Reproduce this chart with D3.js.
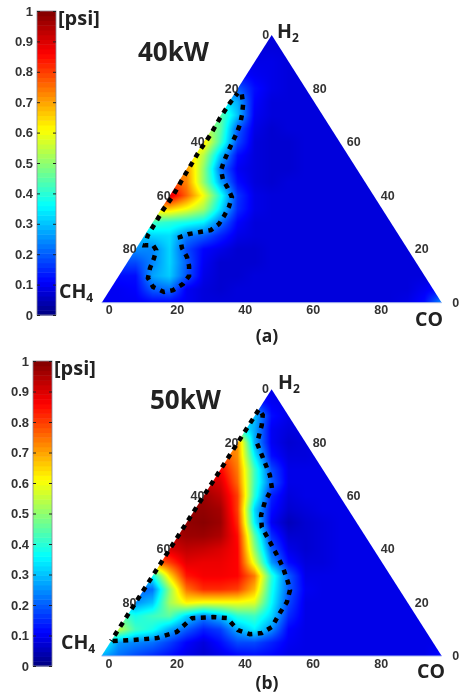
<!DOCTYPE html>
<html>
<head>
<meta charset="utf-8">
<script src="https://cdn.jsdelivr.net/npm/d3@7"></script>
<style>
  html, body { margin: 0; padding: 0; background: #fff; }
  #wrap { position: relative; width: 464px; height: 697px; overflow: hidden; filter: blur(0.45px); }
  canvas, svg { position: absolute; left: 0; top: 0; }
  text { font-family: "Open Sans", sans-serif; }
  .tick-label { font-family: "Liberation Sans", sans-serif; font-weight: bold; font-size: 12.5px; fill: #333; }
  .bar-label { font-size: 13px; }
</style>
</head>
<body>
<div id="wrap">
  <canvas id="heat" width="464" height="697"></canvas>
  <svg id="chart" width="464" height="697"></svg>
</div>
<script>
// colour bar and ternary tick labels
let barTicks = [0, 0.1, 0.2, 0.3, 0.4, 0.5, 0.6, 0.7, 0.8, 0.9, 1];
let ternaryTicks = [0, 20, 40, 60, 80];

// jet colours
let jetStops = [0, 0.11, 0.36, 0.61, 0.86, 1];
let jetColors = ["#000080", "#0000ff", "#00ffff", "#ffff00", "#ff0000", "#800000"];

// pressure in hundredths of a psi.
// one row per 5% of height (bottom row first), one column per 5% along the base
let pressure40 = [
  [10,10,10,11,11,10, 8, 8, 8, 8, 8, 8, 8, 8, 8, 8, 8, 8, 9,12,25],
  [10,10,11,20,22,10, 8, 7, 8, 8, 8, 8, 8, 8, 8, 8, 8, 8, 8,10,12],
  [12,12,12,27,31,19, 9, 7, 7, 8, 8, 8, 8, 8, 8, 8, 8, 8, 8, 8, 8],
  [18,18,18,24,32,20,10, 7, 7, 7, 8, 8, 8, 8, 8, 8, 8, 8, 8, 8, 8],
  [25,25,25,24,32,18,11, 9, 7, 7, 8, 8, 8, 8, 8, 8, 8, 8, 8, 8, 8],
  [30,30,30,32,33,23,20,14, 9, 8, 8, 8, 8, 8, 8, 8, 8, 8, 8, 8, 8],
  [42,42,42,42,40,38,35,22,11, 8, 8, 8, 8, 8, 8, 8, 8, 8, 8, 8, 8],
  [66,66,66,66,66,60,52,33,15, 9, 8, 8, 8, 8, 8, 8, 8, 8, 8, 8, 8],
  [90,90,90,90,90,76,60,38,16, 9, 8, 8, 8, 8, 8, 8, 8, 8, 8, 8, 8],
  [80,80,80,80,80,73,50,27,12, 8, 7, 8, 8, 8, 8, 8, 8, 8, 8, 8, 8],
  [72,72,72,72,72,72,50,22,10, 8, 7, 7, 8, 8, 8, 8, 8, 8, 8, 8, 8],
  [68,68,68,68,68,68,54,30,12, 8, 7, 7, 8, 8, 8, 8, 8, 8, 8, 8, 8],
  [64,64,64,64,64,64,64,42,18, 8, 7, 7, 8, 8, 8, 8, 8, 8, 8, 8, 8],
  [56,56,56,56,56,56,56,45,20, 9, 7, 8, 8, 8, 8, 8, 8, 8, 8, 8, 8],
  [45,45,45,45,45,45,45,45,30,10, 8, 8, 8, 8, 8, 8, 8, 8, 8, 8, 8],
  [35,35,35,35,35,35,35,35,28,11, 8, 8, 8, 8, 8, 8, 8, 8, 8, 8, 8],
  [20,20,20,20,20,20,20,20,20,12, 9, 8, 8, 8, 8, 8, 8, 8, 8, 8, 8],
  [12,12,12,12,12,12,12,12,12,10, 9, 8, 8, 8, 8, 8, 8, 8, 8, 8, 8],
  [ 9, 9, 9, 9, 9, 9, 9, 9, 9, 9, 9, 8, 8, 8, 8, 8, 8, 8, 8, 8, 8],
  [ 8, 8, 8, 8, 8, 8, 8, 8, 8, 8, 8, 8, 8, 8, 8, 8, 8, 8, 8, 8, 8],
  [ 8, 8, 8, 8, 8, 8, 8, 8, 8, 8, 8, 8, 8, 8, 8, 8, 8, 8, 8, 8, 8]
];

let pressure50 = [
  [28,22,18,15,12, 9, 7, 9,11,12,11, 9, 9, 9, 9, 9, 9, 9, 9, 9,12],
  [40,26,24,22,17,11, 8,12,18,18,14,10, 9, 9, 9, 9, 9, 9, 9, 9, 9],
  [55,55,42,38,28,20,14,17,28,35,25,11, 9, 9, 9, 9, 9, 9, 9, 9, 9],
  [45,45,38,42,45,32,24,30,40,42,32,15, 9, 9, 9, 9, 9, 9, 9, 9, 9],
  [25,25,25,30,52,62,60,60,60,58,36,18, 9, 9, 9, 9, 9, 9, 9, 9, 9],
  [20,20,20,22,50,75,82,82,80,68,38,20,10, 9, 9, 9, 9, 9, 9, 9, 9],
  [36,36,36,36,64,84,87,87,86,74,40,20, 9, 9, 9, 9, 9, 9, 9, 9, 9],
  [74,74,74,74,80,89,88,88,86,58,26,12, 8, 8, 9, 9, 9, 9, 9, 9, 9],
  [90,90,90,90,90,93,92,90,86,50,20, 9, 7, 8, 9, 9, 9, 9, 9, 9, 9],
  [94,94,94,94,94,97,97,95,85,45,15, 7, 7, 8, 9, 9, 9, 9, 9, 9, 9],
  [98,98,98,98,98,98,99,97,82,35,10, 5, 7, 8, 9, 9, 9, 9, 9, 9, 9],
  [98,98,98,98,98,98,98,96,80,32,12, 7, 8, 9, 9, 9, 9, 9, 9, 9, 9],
  [97,97,97,97,97,97,97,93,80,40,14, 8, 9, 9, 9, 9, 9, 9, 9, 9, 9],
  [93,93,93,93,93,93,93,90,76,42,20, 9, 9, 9, 9, 9, 9, 9, 9, 9, 9],
  [86,86,86,86,86,86,86,86,74,42,18, 9, 9, 9, 9, 9, 9, 9, 9, 9, 9],
  [80,80,80,80,80,80,80,80,72,35,12, 8, 8, 9, 9, 9, 9, 9, 9, 9, 9],
  [72,72,72,72,72,72,72,72,72,28,10, 7, 8, 9, 9, 9, 9, 9, 9, 9, 9],
  [40,40,40,40,40,40,40,40,40,28,10, 8, 9, 9, 9, 9, 9, 9, 9, 9, 9],
  [30,30,30,30,30,30,30,30,30,30,12, 9, 9, 9, 9, 9, 9, 9, 9, 9, 9],
  [15,15,15,15,15,15,15,15,15,15,10, 9, 9, 9, 9, 9, 9, 9, 9, 9, 9],
  [ 9, 9, 9, 9, 9, 9, 9, 9, 9, 9, 9, 9, 9, 9, 9, 9, 9, 9, 9, 9, 9]
];

// dashed outlines: position along the base (%), height (%)
let outline40X = [41.2,41.6,41.3,40.7,39.7,38.3,37.1,36,35.1,35.7,37.1,38.3,37.4,36,34.5,32.1,28.9,25.4,23,23.6,25.1,25.7,25.7,23.9,21,18.3,15.1,13.6,14.2,15.4,16,15.1,12.7,13.6,16.3,18,20.7,23.9,28.3,31.9,34.8,37.7,40];
let outline40Y = [77.8,74.2,70.4,66.7,63.3,59.6,56.2,52.9,49.5,45.8,42.8,39.4,35.7,32.4,29.4,27.1,26.4,25.6,24.5,20.4,17,13.7,10,7,4.7,4,5.9,9.2,12.9,16.7,19.7,21.5,21.5,25.3,30.9,34.6,39.4,46.5,55.8,62.6,69,74.6,78.3];
let outline50X = [3.3,9.2,16.3,22.1,26.6,32.7,36.9,40.1,43.6,47.1,50.1,52.4,54.5,55.4,54.8,53.3,51.6,48.9,47.1,46.9,48,50.1,49.5,47.4,45.7,47.1,47.4,46.3,2.8];
let outline50Y = [5.6,6,6.7,9,14.2,14.6,14.2,9.7,8.2,8.6,10.9,16.1,20.2,24.7,27.7,33.3,37.8,44.2,48.3,52.8,57.7,62.9,67.8,74.5,79.8,86.5,90.3,92.5,5.6];

let svg = d3.select("#chart");
let ctx = document.getElementById("heat").getContext("2d");
let jet = d3.scaleLinear().domain(jetStops).range(jetColors).clamp(true);

function drawField(values, x, y, corners) {
  let left = corners[0][0], right = corners[1][0], top = corners[2][1], bottom = corners[0][1];
  let x0 = Math.floor(left), y0 = Math.floor(top);
  let w = Math.ceil(right) - x0 + 1, h = Math.ceil(bottom) - y0 + 1;
  let off = document.createElement("canvas");
  off.width = w; off.height = h;
  let octx = off.getContext("2d");
  let img = octx.createImageData(w, h);
  for (let j = 0; j < h; j++) {
    for (let i = 0; i < w; i++) {
      let gx = Math.min(19.999, Math.max(0, x.invert(x0 + i + 0.5) / 5));
      let gy = Math.min(19.999, Math.max(0, y.invert(y0 + j + 0.5) / 5));
      let ci = Math.floor(gx), ri = Math.floor(gy);
      let fx = gx - ci, fy = gy - ri;
      let v = (values[ri][ci] * (1 - fx) + values[ri][ci + 1] * fx) * (1 - fy)
            + (values[ri + 1][ci] * (1 - fx) + values[ri + 1][ci + 1] * fx) * fy;
      let c = d3.rgb(jet(v / 100));
      let k = (j * w + i) * 4;
      img.data[k] = c.r; img.data[k + 1] = c.g; img.data[k + 2] = c.b; img.data[k + 3] = 255;
    }
  }
  octx.putImageData(img, 0, 0);
  ctx.save();
  ctx.beginPath();
  ctx.moveTo(corners[0][0], corners[0][1]);
  ctx.lineTo(corners[1][0], corners[1][1]);
  ctx.lineTo(corners[2][0], corners[2][1]);
  ctx.closePath();
  ctx.clip();
  ctx.drawImage(off, x0, y0);
  ctx.restore();
}

function drawBar(g, p) {
  let scale = d3.scaleLinear().domain([0, 1]).range([p.barBottom, p.barTop]);
  let levels = d3.range(64);
  let step = (p.barBottom - p.barTop) / 64;
  g.selectAll("rect.level").data(levels).enter().append("rect")
    .attr("class", "level")
    .attr("x", p.barLeft)
    .attr("width", 19)
    .attr("y", d => scale((d + 1) / 64))
    .attr("height", step + 0.5)
    .attr("fill", d => jet((d + 0.5) / 64));
  g.append("rect")
    .attr("x", p.barLeft).attr("y", p.barTop).attr("width", 19).attr("height", p.barBottom - p.barTop)
    .attr("fill", "none").attr("stroke", "#8a8a98").attr("stroke-width", 0.8);

  let axis = g.append("g")
    .attr("transform", "translate(" + p.barLeft + ",0)")
    .call(d3.axisLeft(scale).tickValues(barTicks).tickSize(-3).tickPadding(4).tickFormat(d3.format("~g")));
  axis.select(".domain").remove();
  axis.selectAll("line").attr("stroke", "#222");
  axis.selectAll("text").attr("class", "tick-label bar-label").attr("font-family", null).attr("font-size", null);
  let axisR = g.append("g")
    .attr("transform", "translate(" + (p.barLeft + 19) + ",0)")
    .call(d3.axisRight(scale).tickValues(barTicks).tickSize(-3).tickFormat(""));
  axisR.select(".domain").remove();
  axisR.selectAll("line").attr("stroke", "#222");
}

function label(g, txt, x, y, size, weight, anchor) {
  return g.append("text").attr("x", x).attr("y", y)
    .attr("font-size", size).attr("font-weight", weight)
    .attr("fill", "#222").attr("text-anchor", anchor || "start").text(txt);
}

function drawPanel(p) {
  let g = svg.append("g");
  let x = d3.scaleLinear().domain([0, 100]).range([p.left, p.right]);
  let y = d3.scaleLinear().domain([0, 100]).range([p.base, p.apex]);
  let corners = [[x(0), y(0)], [x(100), y(0)], [x(50), y(100)]];

  drawField(p.values, x, y, corners);
  drawBar(g, p);

  // pale line along the base
  g.append("line")
    .attr("x1", x(0)).attr("x2", x(100)).attr("y1", y(0)).attr("y2", y(0))
    .attr("stroke", "#a9b8ee").attr("stroke-width", 1);

  // ternary tick labels: base, left edge (read downward), right edge (read upward)
  g.selectAll("text.base").data(ternaryTicks).enter().append("text")
    .attr("class", "tick-label").attr("text-anchor", "middle")
    .attr("x", d => x(d) + 7.5).attr("y", y(0) + 11.5).text(d => d);
  g.selectAll("text.lefte").data(ternaryTicks).enter().append("text")
    .attr("class", "tick-label").attr("text-anchor", "middle")
    .attr("x", d => x(50 - d / 2) - 6).attr("y", d => y(100 - d) + 4).text(d => d);
  g.selectAll("text.righte").data(ternaryTicks).enter().append("text")
    .attr("class", "tick-label").attr("text-anchor", "middle")
    .attr("x", d => x(100 - d / 2) + 14).attr("y", d => y(d) + 4).text(d => d);

  // dashed outline
  let line = d3.line().x(d => x(d[0])).y(d => y(d[1])).curve(d3.curveLinear);
  g.append("path")
    .datum(d3.zip(p.outlineX, p.outlineY))
    .attr("d", line)
    .attr("fill", "none").attr("stroke", "#000")
    .attr("stroke-width", 4.5).attr("stroke-dasharray", "5,5.5");

  label(g, "[psi]", p.psiX, p.psiY, 20, 700);
  label(g, p.title, p.titleX, p.titleY, 26, 700);
  let ch4 = label(g, "CH", p.chX, p.chY, 19.5, 700);
  ch4.append("tspan").attr("font-size", 12).attr("dy", 4).text("4");
  let h2 = label(g, "H", p.hX, p.hY, 19.5, 700);
  h2.append("tspan").attr("font-size", 12).attr("dy", 4).text("2");
  label(g, "CO", p.coX, p.coY, 19.5, 700);
  label(g, p.caption, 267, p.capY, 17.5, 700, "middle");
}

drawPanel({
  values: pressure40, outlineX: outline40X, outlineY: outline40Y,
  left: 101.7, right: 441.7, base: 302.7, apex: 35,
  barLeft: 37, barTop: 11, barBottom: 315,
  psiX: 58, psiY: 25, title: "40kW", titleX: 138, titleY: 61,
  chX: 59, chY: 298, hX: 277, hY: 38, coX: 415, coY: 326,
  caption: "(a)", capY: 342
});

drawPanel({
  values: pressure50, outlineX: outline50X, outlineY: outline50Y,
  left: 101.5, right: 441.7, base: 656, apex: 389.3,
  barLeft: 33, barTop: 361, barBottom: 666,
  psiX: 54, psiY: 375, title: "50kW", titleX: 150, titleY: 409,
  chX: 61, chY: 649, hX: 278, hY: 389, coX: 417, coY: 678,
  caption: "(b)", capY: 689
});
</script>
</body>
</html>
